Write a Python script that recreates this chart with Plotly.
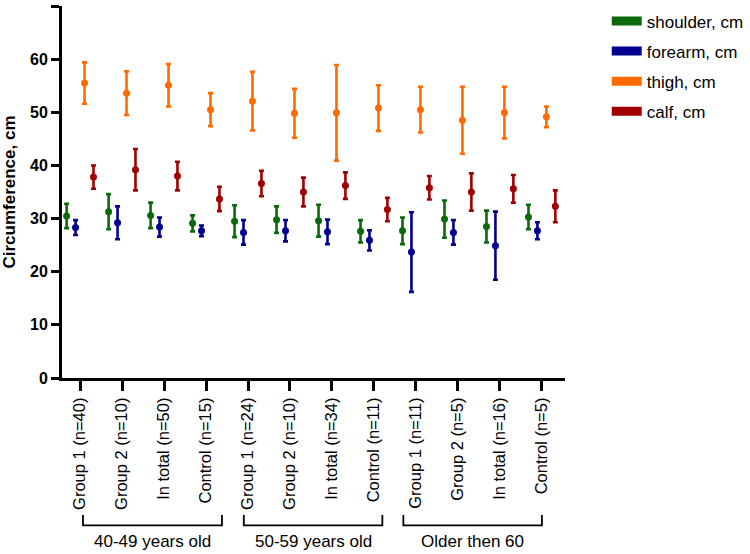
import plotly.graph_objects as go

categories = ["Group 1 (n=40)", "Group 2 (n=10)", "In total (n=50)", "Control (n=15)",
              "Group 1 (n=24)", "Group 2 (n=10)", "In total (n=34)", "Control (n=11)",
              "Group 1 (n=11)", "Group 2 (n=5)", "In total (n=16)", "Control (n=5)"]
age_groups = ["40-49 years old", "50-59 years old", "Older then 60"]

shoulder_mean = [30.5, 31.3, 30.6, 29.1, 29.5, 29.8, 29.6, 27.6, 27.7, 29.9, 28.5, 30.3]
shoulder_err = [2.3, 3.3, 2.4, 1.5, 3.0, 2.5, 3.0, 2.1, 2.5, 3.5, 3.0, 2.3]
forearm_mean = [28.3, 29.2, 28.4, 27.7, 27.4, 27.7, 27.5, 25.9, 23.7, 27.4, 24.9, 27.7]
forearm_err = [1.4, 3.1, 1.8, 1.0, 2.3, 2.0, 2.3, 1.9, 7.5, 2.3, 6.4, 1.6]
thigh_mean = [55.5, 53.6, 55.1, 50.5, 52.1, 49.8, 49.9, 50.8, 50.5, 48.5, 49.95, 49.15]
thigh_err = [3.9, 4.1, 4.0, 3.1, 5.5, 4.6, 9.0, 4.3, 4.3, 6.3, 4.85, 1.95]
calf_mean = [37.8, 39.2, 38.0, 33.7, 36.6, 35.0, 36.2, 31.7, 35.8, 35.0, 35.6, 32.3]
calf_err = [2.2, 3.9, 2.7, 2.3, 2.4, 2.7, 2.5, 2.2, 2.2, 3.5, 2.6, 3.0]

series = [
    ("shoulder, cm", shoulder_mean, shoulder_err, "#0b680b"),
    ("forearm, cm", forearm_mean, forearm_err, "#00008e"),
    ("thigh, cm", thigh_mean, thigh_err, "#ff6a00"),
    ("calf, cm", calf_mean, calf_err, "#a00000"),
]
offsets = [-0.32, -0.107, 0.107, 0.32]

FONT = "Arial, Liberation Sans, sans-serif"
fig = go.Figure()
idx = list(range(len(categories)))
for (name, m, e, c), off in zip(series, offsets):
    fig.add_trace(go.Scatter(
        x=[i + off for i in idx], y=m, mode="markers", name=name, showlegend=False,
        marker=dict(color=c, size=7, symbol="circle"),
        error_y=dict(type="data", array=e, visible=True, color=c, thickness=2.6, width=2.5),
    ))
for k, (name, m, e, c) in enumerate(series):
    fig.add_trace(go.Scatter(x=[None], y=[None], mode="lines", name=name,
                             legendgroup=f"g{k}",
                             line=dict(color=c, width=9)))

# brackets for age groups
bracket_spans = [(0.07, 3.38), (3.9, 7.2), (7.7, 11.0)]
for (x0, x1), lab in zip(bracket_spans, age_groups):
    fig.add_shape(type="path", xref="x", yref="paper",
                  path=f"M {x0},-0.368 L {x0},-0.396 L {x1},-0.396 L {x1},-0.368",
                  line=dict(color="black", width=1.8))
    fig.add_annotation(x=(x0 + x1) / 2, y=-0.44, xref="x", yref="paper", text=lab,
                       showarrow=False, font=dict(family=FONT, size=17, color="black"),
                       yanchor="middle")

fig.update_layout(
    width=750, height=554,
    margin=dict(l=62, r=185, t=6, b=176, autoexpand=False),
    plot_bgcolor="white", paper_bgcolor="white",
    font=dict(family=FONT, color="black"),
    legend=dict(x=1.083, y=1.007, xanchor="left", yanchor="top", font=dict(size=17),
                itemwidth=30, tracegroupgap=5, bgcolor="rgba(0,0,0,0)"),
    xaxis=dict(range=[-0.43, 11.55], tickvals=idx, ticktext=categories, tickangle=-90,
               automargin=False,
               showgrid=False, zeroline=False, showline=True, linecolor="black", linewidth=3,
               ticks="outside", ticklen=10, tickwidth=2.5, tickcolor="black",
               tickfont=dict(family=FONT, size=16.5, color="black")),
    yaxis=dict(range=[0, 70], dtick=10, showgrid=False, zeroline=False, showline=True,
               automargin=False,
               linecolor="black", linewidth=3, ticks="outside", ticklen=8, tickwidth=2.5,
               tickcolor="black",
               tickfont=dict(family=FONT, size=16, color="black", weight="bold"),
               title=dict(text="Circumference, cm", standoff=12,
                          font=dict(family=FONT, size=17, color="black", weight="bold"))),
)
fig.write_html("out.html", config={"displayModeBar": False},
               post_script="document.body.style.margin='0';document.body.style.overflow='hidden';")
